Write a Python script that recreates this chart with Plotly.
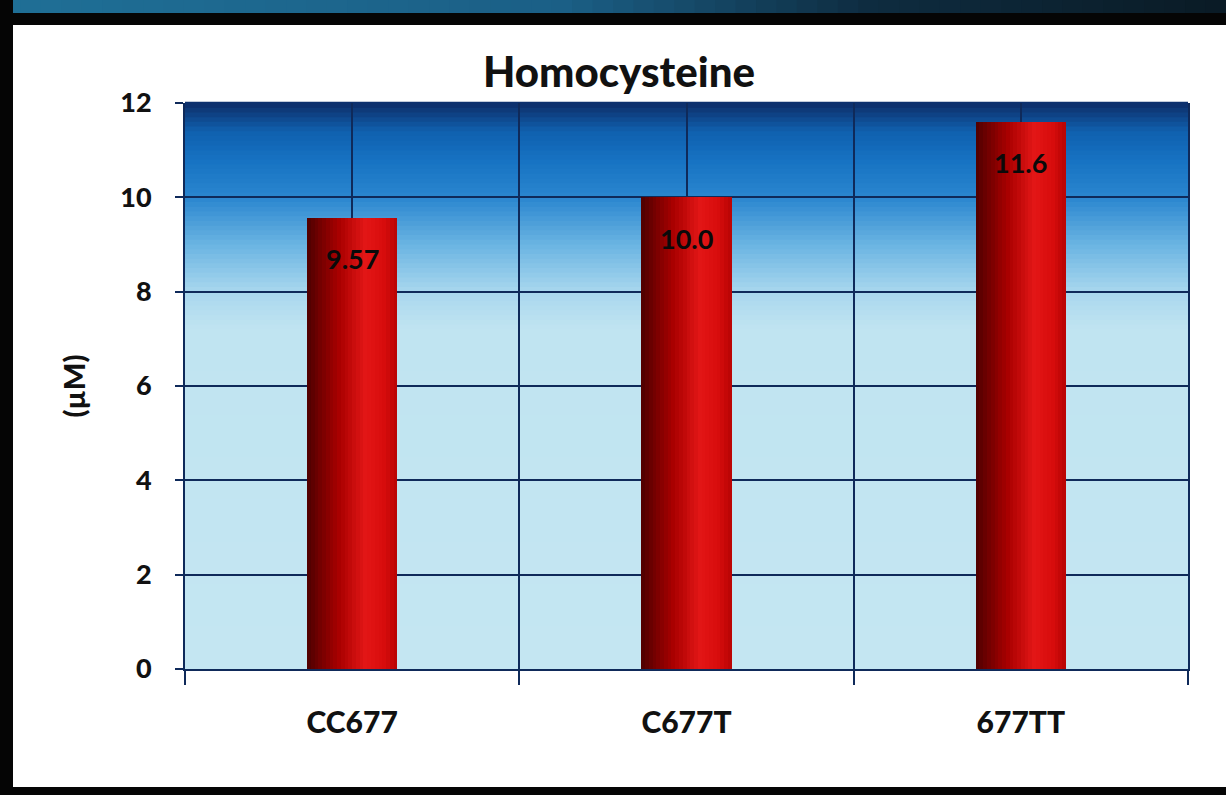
import plotly.graph_objects as go

# ---- data ----
categories = ["CC677", "C677T", "677TT"]
values = [9.57, 10.0, 11.6]
value_labels = ["9.57", "10.0", "11.6"]
y_ticks = [0, 2, 4, 6, 8, 10, 12]
title_text = "Homocysteine"
y_title = "(µM)"

W, H = 1226, 795
ML, MR, MT, MB = 185, 38, 103, 126
PW, PH = W - ML - MR, H - MT - MB

FONT = "Lato"
NAVY = "#0f2a5a"


def hex2rgb(h):
    h = h.lstrip("#")
    return tuple(int(h[i:i + 2], 16) for i in (0, 2, 4))


def interp(stops, t):
    for (t0, c0), (t1, c1) in zip(stops, stops[1:]):
        if t0 <= t <= t1:
            f = 0 if t1 == t0 else (t - t0) / (t1 - t0)
            a, b = hex2rgb(c0), hex2rgb(c1)
            return "rgb(%d,%d,%d)" % tuple(round(a[i] + (b[i] - a[i]) * f) for i in range(3))
    return stops[-1][1]


def px_x(px):
    return (px - ML) / PW


def px_y(py):
    return (H - MB - py) / PH


fig = go.Figure()

# bars with horizontal gradient built from slices
bar_w = 0.27
n_slices = 24
bar_stops = [(0.0, "#4e0000"), (0.35, "#a80000"), (0.65, "#e31616"), (0.85, "#d80c0c"), (1.0, "#b80404")]
x_idx = list(range(len(categories)))
for i in range(n_slices):
    t = (i + 0.5) / n_slices
    fig.add_trace(go.Bar(
        x=x_idx, y=values,
        width=bar_w / n_slices * 1.02,
        offset=-bar_w / 2 + i * bar_w / n_slices,
        marker=dict(color=interp(bar_stops, t), line=dict(width=0)),
        hoverinfo="skip", showlegend=False,
    ))

shapes = []
# plot-area gradient background
bg_stops = [(0.0, "#c4e6f2"), (0.6, "#c0e4f1"), (0.667, "#a8d7ee"), (0.75, "#6ab4e2"),
            (0.833, "#2a86cf"), (0.9, "#1672c2"), (0.95, "#1060ae"), (1.0, "#0d2d68")]
n_bg = 120
for i in range(n_bg):
    y0, y1 = i / n_bg, (i + 1) / n_bg
    shapes.append(dict(type="rect", xref="x domain", yref="y domain", x0=0, x1=1, y0=y0, y1=y1 + 0.002,
                       fillcolor=interp(bg_stops, (y0 + y1) / 2), line=dict(width=0), layer="below"))

# outer frame
shapes.append(dict(type="rect", xref="paper", yref="paper", x0=px_x(0), x1=px_x(W), y0=px_y(25), y1=px_y(0),
                   fillcolor="#050505", line=dict(width=0), layer="below"))
n_top = 60
top_stops = [(0.0, "#1f6f96"), (0.45, "#1b5f86"), (0.7, "#0e2c40"), (1.0, "#0a1a24")]
for i in range(n_top):
    x0, x1 = i / n_top * W, (i + 1) / n_top * W
    shapes.append(dict(type="rect", xref="paper", yref="paper", x0=px_x(x0), x1=px_x(x1 + 1), y0=px_y(13), y1=px_y(0),
                       fillcolor=interp(top_stops, i / n_top), line=dict(width=0), layer="below"))
shapes.append(dict(type="rect", xref="paper", yref="paper", x0=px_x(0), x1=px_x(13), y0=px_y(H), y1=px_y(0),
                   fillcolor="#050505", line=dict(width=0), layer="below"))
shapes.append(dict(type="rect", xref="paper", yref="paper", x0=px_x(0), x1=px_x(W), y0=px_y(H), y1=px_y(787),
                   fillcolor="#050505", line=dict(width=0), layer="below"))

annotations = [
    dict(x=xi, y=v, xref="x", yref="y", text="<b>%s</b>" % lab, showarrow=False, yshift=-41,
         xanchor="center", yanchor="middle",
         font=dict(family=FONT, size=27, color="#0a0a0a", weight=900))
    for xi, v, lab in zip(x_idx, values, value_labels)
]
annotations.append(dict(x=px_x(619), y=px_y(71), xref="paper", yref="paper", text=title_text,
                        xanchor="center", yanchor="middle",
                        showarrow=False, font=dict(family=FONT, size=42, color="#111111", weight=900)))

fig.update_layout(
    width=W, height=H,
    margin=dict(l=ML, r=MR, t=MT, b=MB),
    paper_bgcolor="white",
    plot_bgcolor="rgba(0,0,0,0)",
    barmode="overlay",
    bargap=0,
    shapes=shapes,
    annotations=annotations,
    xaxis=dict(
        range=[-0.5, 2.5], tickvals=x_idx, ticktext=categories,
        ticks="", showgrid=True, gridcolor=NAVY, gridwidth=1.5,
        showline=True, linecolor=NAVY, linewidth=2,
        tickfont=dict(family=FONT, size=30, color="#111111", weight=900), ticklabelstandoff=26,
        minor=dict(tickvals=[-0.5, 0.5, 1.5, 2.5], showgrid=True, gridcolor=NAVY, gridwidth=1.5,
                   ticks="outside", ticklen=14, tickcolor=NAVY, tickwidth=2),
        zeroline=False, fixedrange=True,
    ),
    yaxis=dict(
        range=[0, 12], tickvals=y_ticks, ticktext=[str(t) for t in y_ticks],
        ticks="outside", ticklen=8, tickcolor=NAVY, tickwidth=2,
        showgrid=True, gridcolor=NAVY, gridwidth=2,
        showline=True, mirror=True, linecolor=NAVY, linewidth=2,
        tickfont=dict(family=FONT, size=27, color="#111111", weight=900), ticklabelstandoff=18,
        title=dict(text=y_title, font=dict(family=FONT, size=29, color="#111111", weight=900), standoff=26),
        zeroline=False, fixedrange=True,
    ),
)

fig.write_html("out.html", config={"displayModeBar": False},
               post_script="document.body.style.margin='0';")
